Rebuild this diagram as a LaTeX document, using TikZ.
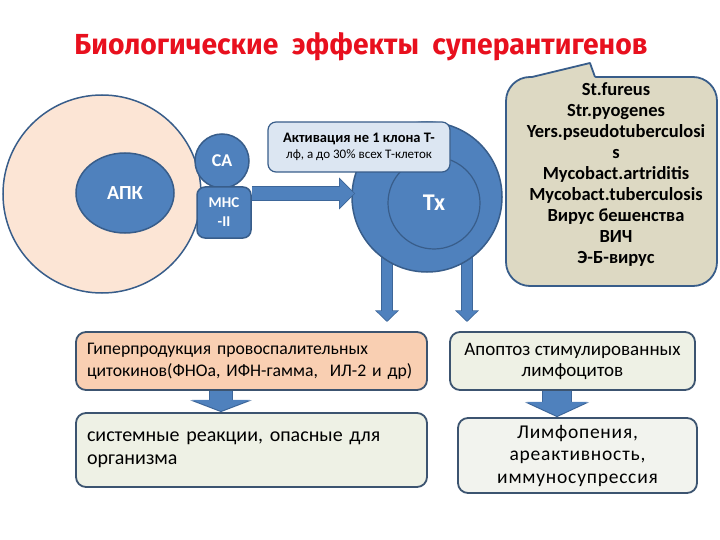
\documentclass[tikz,border=0pt]{standalone}
\usepackage{graphicx}
\usepackage{fontspec}
\setmainfont{Carlito}
\newfontfamily\titlefont{Fira Sans}
\usetikzlibrary{shapes.geometric,arrows.meta,backgrounds}

\definecolor{cellblue}{HTML}{4F81BD}
\definecolor{celledge}{HTML}{385D8A}
\definecolor{arrowedge}{HTML}{3D6699}
\definecolor{apcfill}{HTML}{FCE5D5}
\definecolor{actfill}{HTML}{DCE6F2}
\definecolor{orgfill}{HTML}{DDD9C3}
\definecolor{hyperfill}{HTML}{F9CFB2}
\definecolor{palefill}{HTML}{EEF1E5}
\definecolor{lymphfill}{HTML}{F2F3EE}
\definecolor{boxedge}{HTML}{3C5470}
\definecolor{titlered}{HTML}{E8101E}

% block arrow: from, to, shaft width, tip options
\newcommand{\fatarrow}[4]{%
  \draw[draw=arrowedge, line width=#3+1.6pt, -{Triangle[#4]}] #1 -- #2;
  \draw[draw=cellblue, line width=#3, shorten >=1.2pt, -{Triangle[#4]}] #1 -- #2;}

\begin{document}
\begin{tikzpicture}[x=1pt,y=-1pt,
  cell/.style={fill=cellblue,draw=celledge,line width=1.5pt,text=white,font=\bfseries},
  resbox/.style={rounded corners=10pt,draw=boxedge,line width=1.8pt}]
\useasboundingbox (0,0) rectangle (720,540);

\node[anchor=base,text=titlered] (title) at (361,55)
  {\resizebox{573pt}{\height}{\titlefont\bfseries\fontsize{29}{31}\selectfont Биологические\ \ эффекты\ \ суперантигенов}};

% antigen presenting cell
\node[circle,minimum size=198pt,fill=apcfill,draw=celledge,line width=1.5pt] (apc) at (102,194) {};
\node[cell,ellipse,minimum width=98pt,minimum height=80pt,font=\bfseries\fontsize{20}{22}\selectfont] (apk) at (125,193) {АПК};
\node[cell,circle,minimum size=54pt,inner sep=0pt,font=\bfseries\fontsize{18}{20}\selectfont] (ca) at (222,161) {СА};
\node[cell,rectangle,rounded corners=8pt,minimum width=54pt,minimum height=51pt,inner sep=0pt,align=center,
  font=\bfseries\fontsize{15}{19}\selectfont] (mhc) at (224,212.5) {МНС\\-II};

% T helper
\node[cell,circle,minimum size=150pt] (tx) at (427,197) {};
\node[circle,draw=celledge,line width=1.2pt,minimum size=92pt,text=white,font=\bfseries\fontsize{24}{26}\selectfont] (txin) at (434,203) {Тх};
\coordinate (downL) at (387,322);
\coordinate (downR) at (467,322);
\begin{scope}[on background layer]
\fatarrow{(downL |- tx.center)}{(downL)}{10pt}{width=0pt 2, length=0pt 1}
\fatarrow{(downR |- tx.center)}{(downR)}{10pt}{width=0pt 2, length=0pt 1}
\end{scope}

\node[rounded corners=8pt,fill=actfill,draw=celledge,line width=1.2pt,minimum width=182pt,minimum height=50pt,
  align=center,font=\fontsize{13}{16}\selectfont] (act) at (359,147)
  {{\bfseries\fontsize{14.5}{16}\selectfont Активация не 1 клона Т-}\\лф, а до 30\% всех Т-клеток};
\fatarrow{([yshift=19pt]mhc.east)}{([yshift=19pt,xshift=4pt]mhc.east -| tx.west)}{13pt}{width=0pt 2.1, length=0pt 1.1}

% sources
\node[rounded corners=24pt,fill=orgfill,draw=celledge,line width=1.8pt,minimum width=211pt,minimum height=209pt] (org) at (611.5,181.5) {};
\coordinate (tipA) at (590,63);
\coordinate (baseL) at (532,77);
\coordinate (baseR) at (595,77);
\fill[orgfill] (baseL) -- (tipA) -- (baseR) -- ([yshift=-3pt]baseR) -- ([yshift=-3pt]baseL) -- cycle;
\draw[celledge,line width=1.8pt,line join=round] (baseL) -- (tipA) -- (baseR);
\node[align=center,font=\bfseries\fontsize{18.5}{21}\selectfont] (orglist) at (616,175)
  {St.fureus\\Str.pyogenes\\Yers.pseudotuberculosi\\s\\Mycobact.artriditis\\Mycobact.tuberculosis\\Вирус бешенства\\ВИЧ\\Э-Б-вирус};

% effects
\node[resbox,fill=hyperfill,minimum width=351pt,minimum height=58pt,text width=329pt,align=left,
  font=\fontsize{17.7}{22}\selectfont] (hyper) at (251.5,361)
  {Гиперпродукция провоспалительных\\цитокинов(ФНОа, ИФН-гамма,\ \ ИЛ-2 и др)};
\node[resbox,fill=palefill,minimum width=351pt,minimum height=74pt,text width=329pt,align=left,
  font=\fontsize{20}{23}\selectfont] (sys) at (251.5,450)
  {системные реакции, опасные для\\организма};
\node[resbox,fill=palefill,minimum width=245pt,minimum height=58pt,align=center,
  font=\fontsize{19}{21}\selectfont] (apo) at (572.5,361)
  {Апоптоз стимулированных\\лимфоцитов};
\node[resbox,fill=lymphfill,minimum width=239pt,minimum height=75pt,align=center,
  font=\addfontfeature{LetterSpace=4}\fontsize{19.5}{22.5}\selectfont] (lymph) at (577.5,455.5)
  {Лимфопения,\\ареактивность,\\иммуносупрессия};
\fatarrow{([xshift=-30.5pt]hyper.south)}{([xshift=-30.5pt]hyper.south |- sys.north)}{22pt}{width=0pt 2.6, length=0pt 0.5}
\fatarrow{([xshift=-15.5pt]apo.south)}{([xshift=-15.5pt]apo.south |- lymph.north)}{28pt}{width=0pt 2.15, length=0pt 0.5}
\end{tikzpicture}
\end{document}
